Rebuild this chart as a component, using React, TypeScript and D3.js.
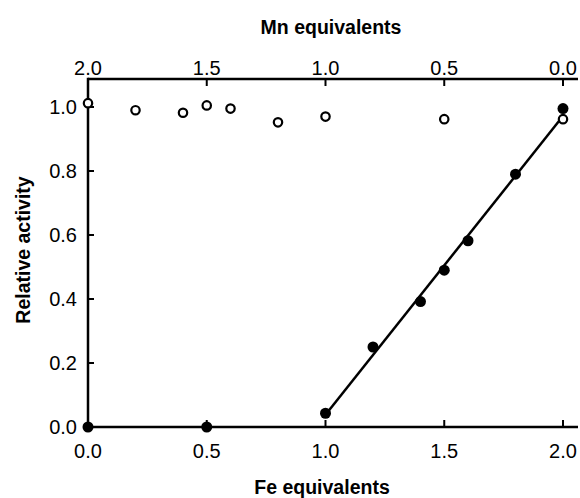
import React, { useEffect, useRef } from 'react';
import * as d3 from 'd3';

// open circles: activity vs Fe position (Mn = 2 - Fe)
const openX = [0.0, 0.2, 0.4, 0.5, 0.6, 0.8, 1.0, 1.5, 2.0];
const openY = [1.012, 0.99, 0.982, 1.005, 0.995, 0.952, 0.97, 0.962, 0.962];

// filled circles
const fillX = [0.0, 0.5, 1.0, 1.2, 1.4, 1.5, 1.6, 1.8, 2.0];
const fillY = [0.0, 0.0, 0.043, 0.25, 0.392, 0.49, 0.582, 0.79, 0.995];

// fitted line ends
const fitX = [1.0, 2.0];
const fitY = [0.038, 0.972];

const feTicks = [0, 0.5, 1.0, 1.5, 2.0];
const mnTicks = [2.0, 1.5, 1.0, 0.5, 0.0];
const yTicks = [0, 0.2, 0.4, 0.6, 0.8, 1.0];

export default function App() {
    const svgRef = useRef<SVGSVGElement>(null);

    useEffect(() => {
        document.body.style.margin = '0';
        const svg = d3.select(svgRef.current);
        svg.selectAll('*').remove();

        const font = 'Liberation Sans, Arial, sans-serif';
        const x = d3.scaleLinear().domain([0, 2]).range([88, 563]);
        const mn = d3.scaleLinear().domain([2, 0]).range([88, 563]);
        const y = d3.scaleLinear().domain([0, 1]).range([427, 107]);
        const xEnd = 578;
        const yTop = 79;
        const fmt = d3.format('.1f');

        const g = svg.append('g');

        // axis lines
        g.append('line').attr('x1', 88).attr('x2', xEnd).attr('y1', 427).attr('y2', 427)
            .attr('stroke', '#000').attr('stroke-width', 2.5);
        g.append('line').attr('x1', 88).attr('x2', xEnd).attr('y1', yTop).attr('y2', yTop)
            .attr('stroke', '#000').attr('stroke-width', 2.5);
        g.append('line').attr('x1', 88).attr('x2', 88).attr('y1', yTop - 1.2).attr('y2', 428)
            .attr('stroke', '#000').attr('stroke-width', 2.5);

        // bottom ticks (inward)
        g.selectAll('.bt').data(feTicks).enter().append('line')
            .attr('x1', d => x(d)).attr('x2', d => x(d)).attr('y1', 427).attr('y2', 420)
            .attr('stroke', '#000').attr('stroke-width', 2);
        g.selectAll('.bl').data(feTicks).enter().append('text')
            .attr('x', d => x(d)).attr('y', 458).attr('text-anchor', 'middle')
            .attr('font-family', font).attr('font-size', 20).text(d => fmt(d));

        // top ticks
        g.selectAll('.tt').data(mnTicks).enter().append('line')
            .attr('x1', d => mn(d)).attr('x2', d => mn(d)).attr('y1', yTop).attr('y2', yTop + 7)
            .attr('stroke', '#000').attr('stroke-width', 2);
        g.selectAll('.tl').data(mnTicks).enter().append('text')
            .attr('x', d => mn(d)).attr('y', 75).attr('text-anchor', 'middle')
            .attr('font-family', font).attr('font-size', 20).text(d => fmt(d));

        // left ticks
        g.selectAll('.lt').data(yTicks).enter().append('line')
            .attr('x1', 88).attr('x2', 94).attr('y1', d => y(d)).attr('y2', d => y(d))
            .attr('stroke', '#000').attr('stroke-width', 2);
        g.selectAll('.ll').data(yTicks).enter().append('text')
            .attr('x', 77).attr('y', d => y(d)).attr('dy', '0.35em').attr('text-anchor', 'end')
            .attr('font-family', font).attr('font-size', 20).text(d => fmt(d));

        // titles
        g.append('text').attr('x', 331).attr('y', 34).attr('text-anchor', 'middle')
            .attr('font-family', font).attr('font-weight', 'bold').attr('font-size', 19.5)
            .text('Mn equivalents');
        g.append('text').attr('x', 322).attr('y', 494).attr('text-anchor', 'middle')
            .attr('font-family', font).attr('font-weight', 'bold').attr('font-size', 19.5)
            .text('Fe equivalents');
        g.append('text').attr('transform', 'translate(30,250) rotate(-90)').attr('text-anchor', 'middle')
            .attr('font-family', font).attr('font-weight', 'bold').attr('font-size', 19.5)
            .text('Relative activity');

        // fitted line
        const line = d3.line<number>().x((d, i) => x(fitX[i])).y(d => y(d));
        g.append('path').attr('d', line(fitY)).attr('fill', 'none')
            .attr('stroke', '#000').attr('stroke-width', 2.5);

        // open circles
        g.selectAll('.oc').data(openY).enter().append('circle')
            .attr('cx', (d, i) => x(openX[i])).attr('cy', d => y(d)).attr('r', 4.2)
            .attr('fill', '#fff').attr('stroke', '#000').attr('stroke-width', 2.2);

        // filled circles
        g.selectAll('.fc').data(fillY).enter().append('circle')
            .attr('cx', (d, i) => x(fillX[i])).attr('cy', d => y(d)).attr('r', 5.5)
            .attr('fill', '#000');
    }, []);

    return (
        <svg ref={svgRef} width={580} height={498} style={{ display: 'block', background: '#fff' }}></svg>
    );
}
